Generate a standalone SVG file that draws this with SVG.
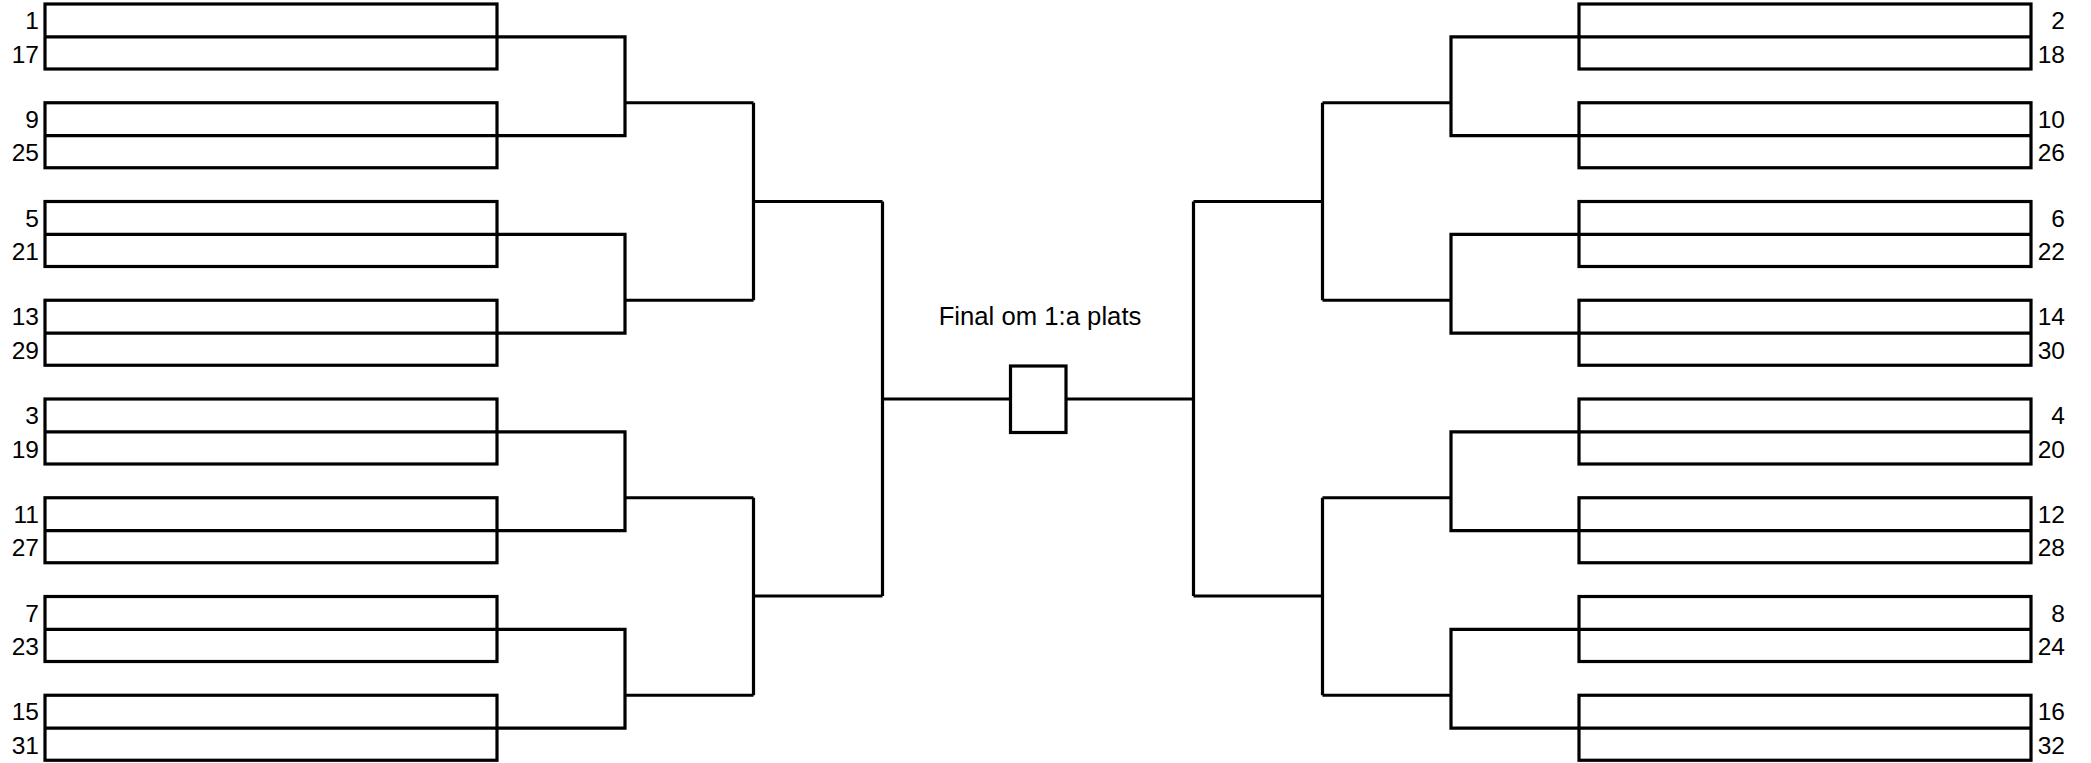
<svg xmlns="http://www.w3.org/2000/svg" width="2091" height="763" viewBox="0 0 2091 763">
<style>
.b{fill:none;stroke:#000;stroke-width:3.2}
.c{fill:none;stroke:#000;stroke-width:3.2}
.l{font-family:"Liberation Sans",Arial,sans-serif;font-size:24.5px;fill:#000}
.lt{text-anchor:end}
.t{font-family:"Liberation Sans",Arial,sans-serif;font-size:25.7px;fill:#000;text-anchor:middle}
</style>
<defs>
<g id="pair"><rect class="b" x="0" y="0" width="452" height="65"/><line class="b" x1="0" y1="32.8" x2="452" y2="32.8"/></g>
</defs>
<rect width="2091" height="763" fill="#fff"/>
<g id="connectors">
<path class="c" d="M497,36.8H625V135.55H497M625,102.75H753.5"/>
<path class="c" d="M497,234.3H625V333.05H497M625,300.25H753.5"/>
<path class="c" d="M497,431.8H625V530.55H497M625,497.75H753.5"/>
<path class="c" d="M497,629.3H625V728.05H497M625,695.25H753.5"/>
<path class="c" d="M753.5,102.75V300.25M753.5,201.5H882.5"/>
<path class="c" d="M753.5,497.75V695.25M753.5,596H882.5"/>
<path class="c" d="M882.5,201.5V596M882.5,399H1011"/>
<path class="c" d="M1579,36.8H1451V135.55H1579M1451,102.75H1322.5"/>
<path class="c" d="M1579,234.3H1451V333.05H1579M1451,300.25H1322.5"/>
<path class="c" d="M1579,431.8H1451V530.55H1579M1451,497.75H1322.5"/>
<path class="c" d="M1579,629.3H1451V728.05H1579M1451,695.25H1322.5"/>
<path class="c" d="M1322.5,102.75V300.25M1322.5,201.5H1193.5"/>
<path class="c" d="M1322.5,497.75V695.25M1322.5,596H1193.5"/>
<path class="c" d="M1193.5,201.5V596M1193.5,399H1066"/>
</g>
<g id="final">
<rect class="b" x="1010.5" y="366" width="55.5" height="66.5"/>
<text class="t" x="1040" y="325">Final om 1:a plats</text>
</g>
<g id="L1"><use href="#pair" x="45" y="4"/><text class="l lt" x="39" y="29">1</text><text class="l lt" x="39" y="62.5">17</text></g>
<g id="L2"><use href="#pair" x="45" y="102.75"/><text class="l lt" x="39" y="127.75">9</text><text class="l lt" x="39" y="161.25">25</text></g>
<g id="L3"><use href="#pair" x="45" y="201.5"/><text class="l lt" x="39" y="226.5">5</text><text class="l lt" x="39" y="260">21</text></g>
<g id="L4"><use href="#pair" x="45" y="300.25"/><text class="l lt" x="39" y="325.25">13</text><text class="l lt" x="39" y="358.75">29</text></g>
<g id="L5"><use href="#pair" x="45" y="399"/><text class="l lt" x="39" y="424">3</text><text class="l lt" x="39" y="457.5">19</text></g>
<g id="L6"><use href="#pair" x="45" y="497.75"/><text class="l lt" x="39" y="522.75">11</text><text class="l lt" x="39" y="556.25">27</text></g>
<g id="L7"><use href="#pair" x="45" y="596.5"/><text class="l lt" x="39" y="621.5">7</text><text class="l lt" x="39" y="655">23</text></g>
<g id="L8"><use href="#pair" x="45" y="695.25"/><text class="l lt" x="39" y="720.25">15</text><text class="l lt" x="39" y="753.75">31</text></g>
<g id="R1"><use href="#pair" x="1579" y="4"/><text class="l lt" x="2065" y="29">2</text><text class="l lt" x="2065" y="62.5">18</text></g>
<g id="R2"><use href="#pair" x="1579" y="102.75"/><text class="l lt" x="2065" y="127.75">10</text><text class="l lt" x="2065" y="161.25">26</text></g>
<g id="R3"><use href="#pair" x="1579" y="201.5"/><text class="l lt" x="2065" y="226.5">6</text><text class="l lt" x="2065" y="260">22</text></g>
<g id="R4"><use href="#pair" x="1579" y="300.25"/><text class="l lt" x="2065" y="325.25">14</text><text class="l lt" x="2065" y="358.75">30</text></g>
<g id="R5"><use href="#pair" x="1579" y="399"/><text class="l lt" x="2065" y="424">4</text><text class="l lt" x="2065" y="457.5">20</text></g>
<g id="R6"><use href="#pair" x="1579" y="497.75"/><text class="l lt" x="2065" y="522.75">12</text><text class="l lt" x="2065" y="556.25">28</text></g>
<g id="R7"><use href="#pair" x="1579" y="596.5"/><text class="l lt" x="2065" y="621.5">8</text><text class="l lt" x="2065" y="655">24</text></g>
<g id="R8"><use href="#pair" x="1579" y="695.25"/><text class="l lt" x="2065" y="720.25">16</text><text class="l lt" x="2065" y="753.75">32</text></g>
</svg>
